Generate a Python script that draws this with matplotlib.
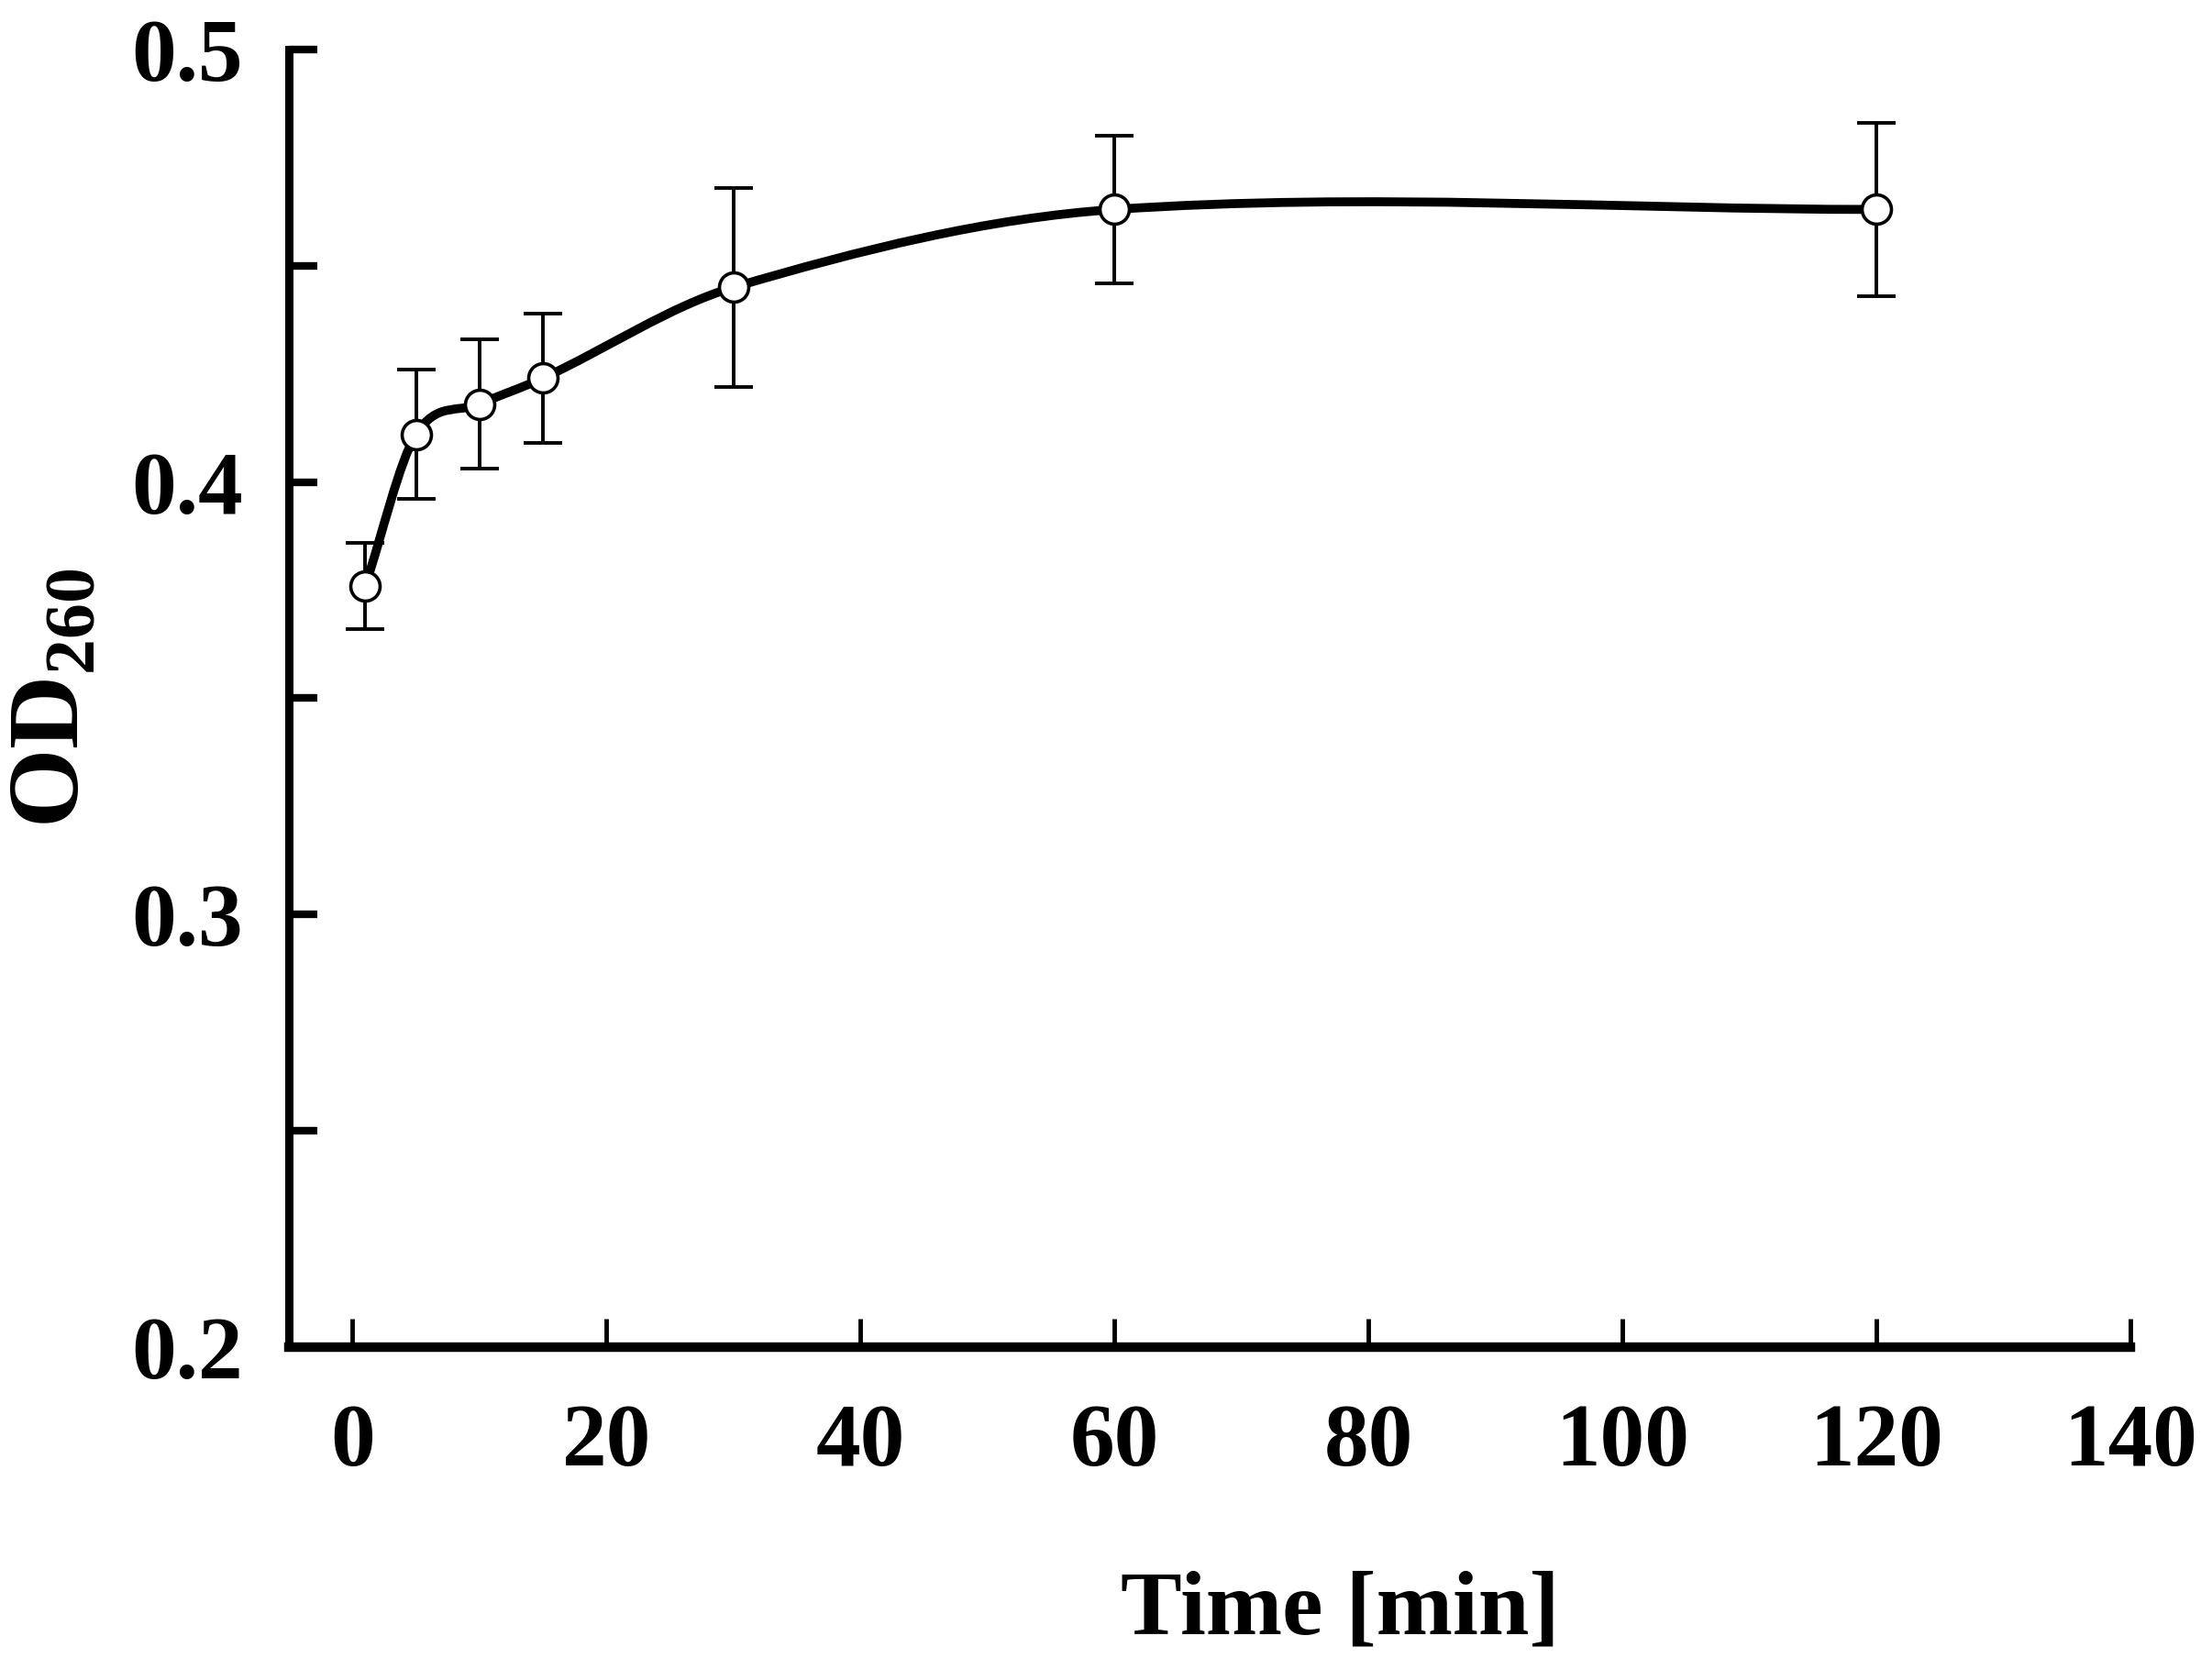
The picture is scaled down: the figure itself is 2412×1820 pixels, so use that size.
import numpy as np
import matplotlib
matplotlib.use("Agg")
import matplotlib.pyplot as plt
from matplotlib.path import Path
from matplotlib.patches import PathPatch

# data
times = [1, 5, 10, 15, 30, 60, 120]
od260 = [0.376, 0.411, 0.418, 0.424, 0.445, 0.463, 0.463]
od_err = [0.010, 0.015, 0.015, 0.015, 0.023, 0.017, 0.020]

x_ticks = [0, 20, 40, 60, 80, 100, 120, 140]
y_major = [0.2, 0.3, 0.4, 0.5]
y_minor = [0.25, 0.35, 0.45]

plt.rcParams["font.family"] = ["Liberation Serif", "DejaVu Serif"]
plt.rcParams["font.weight"] = "bold"
plt.rcParams["mathtext.fontset"] = "custom"
plt.rcParams["mathtext.rm"] = "Liberation Serif:bold"
plt.rcParams["mathtext.bf"] = "Liberation Serif:bold"

fig = plt.figure(figsize=(24.12, 18.20), dpi=100)
ax = fig.add_axes([0.1307, 0.1929, 0.8323, 0.7775])

# -----------------------------------------------------------
# smooth curve through the points (cubic Hermite as Bezier path)
# -----------------------------------------------------------
x = np.asarray(times, dtype=float)
y = np.asarray(od260, dtype=float)
m = np.zeros_like(y)
m[0] = (y[1] - y[0]) / (x[1] - x[0])
m[-1] = 0.0
for i in range(1, len(x) - 1):
    m[i] = (y[i + 1] - y[i - 1]) / (x[i + 1] - x[i - 1])

verts = [(x[0], y[0])]
codes = [Path.MOVETO]
for i in range(len(x) - 1):
    h = x[i + 1] - x[i]
    verts += [(x[i] + h / 3, y[i] + m[i] * h / 3),
              (x[i + 1] - h / 3, y[i + 1] - m[i + 1] * h / 3),
              (x[i + 1], y[i + 1])]
    codes += [Path.CURVE4] * 3
ax.add_patch(PathPatch(Path(verts, codes), fill=False, lw=7, ec="black",
                       capstyle="round", joinstyle="round", zorder=3))

ax.errorbar(times, od260, yerr=od_err, fmt="none", ecolor="black",
            elinewidth=2.8, capsize=15, capthick=2.8, zorder=2)
ax.plot(times, od260, "o", mfc="white", mec="black", ms=23, mew=2.6,
        zorder=4)

# -----------------------------------------------------------
# axes styling
# -----------------------------------------------------------
ax.set_xlim(-5, 140)
ax.set_ylim(0.2, 0.5)
for s in ["top", "right"]:
    ax.spines[s].set_visible(False)
ax.spines["left"].set_linewidth(6.5)
ax.spines["bottom"].set_linewidth(7.5)
ax.spines["bottom"].set_bounds(-5, 140)

ax.set_xticks(x_ticks)
ax.set_xticklabels([str(t) for t in x_ticks])
ax.set_yticks(y_major)
ax.set_yticklabels([f"{v:.1f}" for v in y_major])
ax.set_yticks(y_minor, minor=True)

ax.tick_params(axis="x", direction="in", length=22, width=3.5, pad=44,
               labelsize=70)
ax.tick_params(axis="y", which="both", direction="in", length=22, width=6,
               pad=36, labelsize=70)
for lab in ax.get_xticklabels() + ax.get_yticklabels():
    lab.set_fontweight("bold")

ax.set_xlabel("Time [min]", fontsize=72, fontweight="bold")
ax.xaxis.set_label_coords(0.571, -0.172)
ax.xaxis.label.set_va("top")
ax.set_ylabel(r"OD$_{\mathrm{260}}$", fontsize=80, fontweight="bold")
ax.yaxis.set_label_coords(-0.103, 0.5)

fig.savefig("out.png", dpi=100, facecolor="white")
